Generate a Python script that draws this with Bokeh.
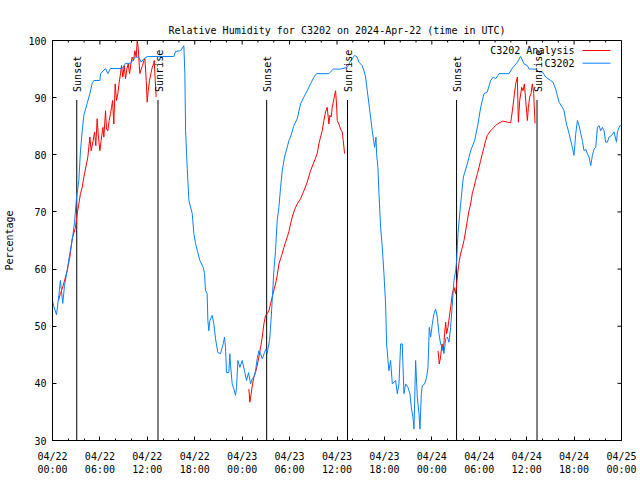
import math
from bokeh.plotting import figure
from bokeh.models import FixedTicker, LinearAxis, Label, Range1d
from bokeh.embed import file_html
from bokeh.resources import INLINE

# ---------------- data ----------------
title_text = "Relative Humidity for C3202 on 2024-Apr-22 (time in UTC)"
y_label = "Percentage"
series_names = ["C3202 Analysis", "C3202"]

# hours since 2024-04-22 00:00 UTC
x_tick_hours = [0, 6, 12, 18, 24, 30, 36, 42, 48, 54, 60, 66, 72]
x_tick_labels = ["04/22\n00:00", "04/22\n06:00", "04/22\n12:00", "04/22\n18:00",
                 "04/23\n00:00", "04/23\n06:00", "04/23\n12:00", "04/23\n18:00",
                 "04/24\n00:00", "04/24\n06:00", "04/24\n12:00", "04/24\n18:00",
                 "04/25\n00:00"]
x_minor_hours = list(range(0, 73, 2))
y_ticks = [30, 40, 50, 60, 70, 80, 90, 100]

sunset_hours = [3.07, 27.10, 51.13]
sunrise_hours = [13.35, 37.33, 61.31]

# observed C3202 relative humidity (%)
blue_hours = [
    0.0, 0.08, 0.51, 0.8, 1.0, 1.15, 1.3, 1.52, 1.86, 2.19, 2.49, 2.78, 3.04, 3.33,
    3.54, 3.76, 3.97, 4.39, 4.73, 5.02, 5.23, 5.99, 6.08, 6.71, 7.0, 7.34, 8.82, 9.24,
    9.87, 10.5, 10.93, 11.22, 11.56, 11.98, 15.36, 15.57, 16.2, 16.62, 16.75, 16.84,
    17.05, 17.26, 17.68, 17.89, 18.1, 18.31, 18.65, 19.07, 19.24, 19.36, 19.57, 19.66,
    19.78, 19.91, 20.21, 20.42, 20.63, 20.92, 21.26, 21.6, 21.77, 21.89, 22.02, 22.32,
    22.44, 22.53, 22.74, 22.95, 23.16, 23.29, 23.46, 23.71, 24.0, 24.3, 24.55, 24.81,
    25.06, 25.27, 25.48, 25.69, 25.9, 26.11, 26.33, 26.54, 26.83, 27.0, 27.17, 27.3,
    27.47, 27.68, 27.8, 28.01, 28.22, 28.43, 28.65, 28.86, 29.07, 29.36, 29.7, 29.91,
    30.12, 30.54, 30.97, 31.39, 31.81, 32.23, 32.65, 33.08, 33.41, 34.97, 35.18, 35.52,
    36.45, 37.3, 37.72, 38.23, 38.56, 38.77, 39.2, 39.41, 39.62, 39.83, 40.04, 40.25,
    40.46, 40.76, 40.93, 41.01, 41.18, 41.31, 41.52, 41.73, 41.94, 42.15, 42.28, 42.45,
    42.57, 42.78, 43.0, 43.42, 43.63, 43.84, 44.05, 44.26, 44.47, 44.68, 44.98, 45.23,
    45.4, 45.61, 45.74, 45.95, 46.16, 46.37, 46.5, 46.67, 46.79, 47.09, 47.34, 47.51,
    47.68, 47.85, 48.06, 48.27, 48.48, 48.69, 48.9, 49.11, 49.32, 49.54, 49.75, 49.96,
    50.17, 50.38, 50.59, 50.8, 51.01, 51.14, 51.31, 51.64, 51.99, 52.49, 52.91, 53.42,
    53.84, 54.18, 54.6, 55.02, 55.44, 55.78, 56.08, 56.5, 57.77, 58.1, 58.82, 59.24,
    59.67, 60.09, 60.3, 61.14, 61.57, 61.99, 62.41, 63.04, 63.34, 63.67, 64.1, 64.52,
    64.73, 65.03, 65.28, 65.57, 65.78, 65.99, 66.21, 66.42, 66.63, 66.84, 67.05, 67.26,
    67.47, 67.68, 67.89, 68.11, 68.32, 68.53, 68.74, 68.95, 69.16, 69.37, 69.58, 69.79,
    70.0, 70.21, 70.43, 70.76, 71.06, 71.36, 71.48, 71.78, 72.0]
blue_rh = [
    54.5, 53.9, 52.0, 55.4, 58.0, 56.0, 54.0, 57.1, 59.8, 62.7, 65.0, 68.1, 72.5, 75.5,
    80.7, 84.2, 86.9, 89.0, 90.7, 92.5, 93.0, 93.0, 94.2, 95.1, 94.2, 95.1, 95.1, 96.0,
    96.0, 97.1, 97.1, 96.2, 96.8, 97.2, 97.2, 98.1, 98.2, 99.1, 94.2, 84.2,
    77.6, 72.0, 69.7, 66.2, 64.5, 63.3, 61.5, 60.3, 59.2, 56.2, 55.7, 51.0,
    49.2, 51.0, 51.9, 50.4, 47.8, 45.4, 45.2, 46.9, 48.1, 46.3, 41.9, 41.9,
    45.2, 43.1, 39.9, 39.0, 37.9, 39.3, 44.0, 42.8, 44.0, 42.2, 40.5, 41.9,
    39.9, 40.8, 41.1, 42.2, 44.3, 45.7, 45.2, 44.3, 45.4, 46.0, 45.2, 46.3,
    47.5, 51.6, 54.5, 59.7, 63.2, 68.5, 70.8, 74.3, 77.2, 79.6, 81.3, 82.5,
    83.1, 85.1, 86.3, 88.9, 90.1, 91.2, 92.4, 93.6, 94.2, 94.2, 94.5, 95.0,
    95.0, 95.3, 96.4, 97.4, 97.1, 96.2, 95.6, 94.7, 93.6, 91.2, 88.9, 86.6,
    84.2, 81.3, 83.1, 80.2, 77.8, 73.2, 67.3, 63.8, 59.2, 53.9, 46.9, 44.0,
    42.2, 44.0, 39.9, 40.5, 38.2, 39.9, 46.9, 46.9, 38.2, 39.9, 39.3, 38.2,
    35.8, 34.1, 32.0, 44.0, 37.6, 34.7, 32.0, 38.2, 39.6, 39.9, 41.1, 42.8,
    49.8, 48.1, 50.4, 52.2, 53.0, 51.6, 48.7, 46.9, 46.3, 45.2, 47.8, 48.1,
    47.2, 49.8, 53.9, 58.0, 59.7, 61.5, 66.2, 71.4, 76.1, 78.4, 80.7, 82.5,
    85.4, 88.3, 90.7, 91.0, 93.0, 93.6, 93.3, 94.2, 94.2, 95.0, 96.2, 97.2,
    95.9, 95.6, 95.0, 95.0, 94.5, 94.5, 93.6, 93.0, 92.7, 91.5, 89.2, 88.3,
    87.7, 85.4, 84.2, 82.5, 81.3, 79.9, 83.7, 86.0, 85.1, 83.7, 82.5, 80.7,
    81.0, 80.2, 79.6, 78.1, 79.9, 81.0, 81.3, 84.8, 85.1, 84.2, 84.8, 84.2,
    82.2, 82.2, 83.1, 83.4, 84.0, 82.2, 84.0, 85.1, 85.1]

# analysis relative humidity (%), three night-time pieces
red1_hours = [0.75, 1.01, 1.35, 1.86, 2.19, 2.49, 2.91, 3.12, 3.33, 3.54, 3.76, 3.97,
              4.30, 4.47, 4.73, 4.89, 5.15, 5.32, 5.48, 5.65, 5.78, 5.99, 6.16, 6.37,
              6.50, 6.71, 6.84, 7.00, 7.17, 7.34, 7.47, 7.60, 7.76, 7.93, 8.10, 8.27,
              8.44, 8.61, 8.73, 8.90, 9.07, 9.24, 9.41, 9.58, 9.75, 9.92, 10.08, 10.25,
              10.42, 10.59, 10.72, 10.84, 11.05, 11.22, 11.39, 11.56, 11.69, 11.86,
              11.98, 12.11, 12.28, 12.45, 12.62, 12.79, 12.87, 13.0, 13.12]
red1_rh = [54.5, 55.7, 57.1, 59.7, 62.1, 65.3, 67.3, 69.7, 71.4, 73.2, 74.3, 76.1,
           78.4, 79.6, 83.1, 80.7, 82.5, 84.0, 81.6, 86.3, 83.7, 80.7, 82.5, 84.8,
           83.1, 87.7, 84.5, 84.2, 86.0, 87.2, 88.3, 89.5, 85.4, 92.4, 89.5, 90.7,
           92.7, 94.2, 95.6, 93.6, 95.6, 93.3, 95.0, 95.9, 94.2, 95.9, 97.1, 96.5,
           98.2, 97.1, 100.0, 98.8, 94.2, 95.0, 95.6, 96.5, 96.8, 93.0,
           89.2, 91.2, 93.0, 94.2, 95.3, 95.9, 96.5, 93.0, 90.1]
red2_hours = [24.85, 24.97, 25.14, 25.31, 25.48, 25.69, 25.90, 26.11, 26.33, 26.54,
              26.75, 26.96, 27.17, 27.38, 27.59, 27.80, 27.99, 28.22, 28.43, 28.65,
              28.86, 29.07, 29.28, 29.49, 29.70, 29.91, 30.12, 30.33, 30.54, 30.76,
              30.97, 31.39, 31.81, 32.23, 32.65, 33.08, 33.49, 33.71, 33.92, 34.13,
              34.34, 34.55, 34.76, 34.89, 34.97, 35.10, 35.27, 35.40, 35.61, 35.82,
              35.94, 36.03, 36.24, 36.45, 36.66, 36.79, 36.96]
red2_rh = [39.0, 36.7, 38.2, 39.9, 41.1, 41.9, 43.1, 44.6, 46.3, 48.1,
           50.4, 51.9, 52.2, 52.7, 53.9, 55.1, 56.2, 57.4, 58.9, 60.9,
           61.8, 62.7, 63.8, 64.7, 65.6, 66.5, 67.9, 69.1, 70.0, 70.8,
           71.4, 72.3, 73.7, 75.2, 77.2, 78.7, 80.2, 81.9, 83.1, 84.2,
           86.0, 87.5, 88.3, 86.6, 85.4, 86.9, 86.6, 88.3, 89.8, 91.2,
           88.9, 86.0, 85.4, 84.5, 84.0, 82.5, 80.2]
red3_hours = [48.78, 48.94, 49.11, 49.28, 49.45, 49.62, 49.75, 49.87, 50.04, 50.21,
              50.38, 50.59, 50.80, 51.01, 51.14, 51.31, 51.48, 51.64, 51.86, 52.07,
              52.28, 52.49, 52.70, 52.91, 53.12, 53.33, 53.54, 53.76, 53.97, 54.18,
              54.39, 54.60, 54.81, 55.02, 55.44, 55.86, 56.29, 56.71, 56.92, 57.98,
              58.19, 58.40, 58.61, 58.82, 58.95, 59.12, 59.37, 59.54, 59.71, 59.88,
              60.09, 60.22, 60.38, 60.55, 60.72, 60.89, 61.06]
red3_rh = [45.7, 43.4, 44.6, 46.9, 45.7, 48.7, 50.7, 48.7, 49.8, 51.6,
           53.3, 55.7, 56.8, 55.7, 57.4, 59.7, 61.5, 62.7, 63.8, 65.0,
           66.7, 68.5, 70.2, 71.4, 73.2, 74.3, 75.5, 76.7, 77.8, 79.0,
           80.2, 81.3, 82.5, 83.4, 84.2, 84.8, 85.4, 85.7, 85.9, 85.6,
           87.7, 90.1, 92.4, 93.6, 85.7, 89.5, 91.8, 91.2, 92.4, 89.5,
           86.0, 88.3, 90.1, 90.7, 92.4, 90.7, 85.5]

nan = float("nan")
red_hours = red1_hours + [nan] + red2_hours + [nan] + red3_hours
red_rh = red1_rh + [nan] + red2_rh + [nan] + red3_rh

# ---------------- style / layout ----------------
FONT = "DejaVu Sans Mono"
FS = "10px"
RED = "#ff0000"
BLUE = "#0a80ff"
X0, X1, Y0, Y1 = 0, 72, 30, 100
FIG_W, FIG_H = 640, 480
B_LEFT, B_RIGHT, B_TOP, B_BOTTOM = 52, 19, 40, 40
FRAME_W = FIG_W - B_LEFT - B_RIGHT
FRAME_H = FIG_H - B_TOP - B_BOTTOM
MAJOR_TICK, MINOR_TICK = 4, 2

p = figure(width=FIG_W, height=FIG_H, output_backend="svg", toolbar_location=None,
           x_range=Range1d(X0, X1), y_range=Range1d(Y0, Y1),
           x_axis_type=None, y_axis_type=None,
           min_border_left=B_LEFT, min_border_right=B_RIGHT,
           min_border_top=B_TOP, min_border_bottom=B_BOTTOM,
           background_fill_color="white", border_fill_color="white")
p.title.text = title_text
p.title.align = "center"
p.title.text_font = FONT
p.title.text_font_size = FS
p.title.text_font_style = "normal"
p.title.text_color = "black"
p.outline_line_color = "black"
p.outline_line_width = 1


def px_x(px):
    return X0 + px * (X1 - X0) / FRAME_W


def px_y(py):
    return Y1 - py * (Y1 - Y0) / FRAME_H


def style_axis(ax):
    ax.major_tick_in = MAJOR_TICK
    ax.major_tick_out = 0
    ax.minor_tick_in = MINOR_TICK
    ax.minor_tick_out = 0
    ax.axis_line_color = "black"
    ax.major_tick_line_color = "black"
    ax.minor_tick_line_color = "black"
    ax.major_label_text_font = FONT
    ax.major_label_text_font_size = FS
    ax.major_label_text_color = "black"


xticker = FixedTicker(ticks=x_tick_hours, minor_ticks=x_minor_hours)
yticker = FixedTicker(ticks=y_ticks, minor_ticks=[])

bottom = LinearAxis(ticker=xticker)
style_axis(bottom)
bottom.major_label_overrides = {h: lab for h, lab in zip(x_tick_hours, x_tick_labels)}
bottom.major_label_text_line_height = 1.22
bottom.major_label_standoff = 10
p.add_layout(bottom, "below")

left = LinearAxis(ticker=yticker)
style_axis(left)
left.major_label_standoff = 6
left.axis_label = y_label
left.axis_label_text_font = FONT
left.axis_label_text_font_size = FS
left.axis_label_text_font_style = "normal"
left.axis_label_text_color = "black"
left.axis_label_standoff = 10
p.add_layout(left, "left")

# mirrored inward ticks on the top and right frame edges
minor_only = [h for h in x_minor_hours if h not in x_tick_hours]
p.segment(x0=x_tick_hours, y0=[Y1] * len(x_tick_hours), x1=x_tick_hours,
          y1=[px_y(MAJOR_TICK)] * len(x_tick_hours), line_color="black", line_width=1)
p.segment(x0=minor_only, y0=[Y1] * len(minor_only), x1=minor_only,
          y1=[px_y(MINOR_TICK)] * len(minor_only), line_color="black", line_width=1)
p.segment(x0=[X1] * len(y_ticks), y0=y_ticks, x1=[X1 - px_x(MAJOR_TICK)] * len(y_ticks),
          y1=y_ticks, line_color="black", line_width=1)

# sunset / sunrise markers
SUN_LINE_TOP = 89.6
sun_hours = sunset_hours + sunrise_hours
p.segment(x0=sun_hours, y0=[Y0] * len(sun_hours), x1=sun_hours,
          y1=[SUN_LINE_TOP] * len(sun_hours), line_color="black", line_width=1)
for t in sunset_hours:
    p.add_layout(Label(x=t, y=91.0, text="Sunset", angle=90, angle_units="deg",
                       text_align="left", text_baseline="middle", text_font=FONT,
                       text_font_size=FS, text_color="black", x_offset=1))
for t in sunrise_hours:
    p.add_layout(Label(x=t, y=91.0, text="Sunrise", angle=90, angle_units="deg",
                       text_align="left", text_baseline="middle", text_font=FONT,
                       text_font_size=FS, text_color="black", x_offset=1))

# data lines
p.line(red_hours, red_rh, line_color=RED, line_width=1)
p.line(blue_hours, blue_rh, line_color=BLUE, line_width=1)

# gnuplot-style legend (text left of sample), placed in frame pixels
legend_rows = [(series_names[0], RED, 10.0), (series_names[1], BLUE, 22.7)]
for name, col, py in legend_rows:
    p.segment(x0=[px_x(530)], y0=[px_y(py)], x1=[px_x(558)], y1=[px_y(py)],
              line_color=col, line_width=1)
    p.add_layout(Label(x=px_x(522), y=px_y(py), text=name, text_align="right",
                       text_baseline="middle", text_font=FONT, text_font_size=FS,
                       text_color="black"))

open("out.html", "w").write(file_html(p, INLINE))
